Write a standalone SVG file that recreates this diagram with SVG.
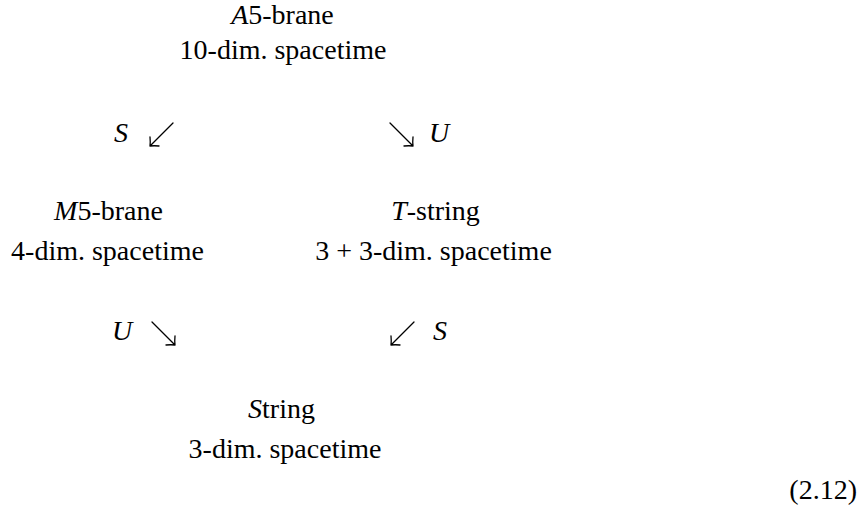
<svg xmlns="http://www.w3.org/2000/svg" width="865" height="512" viewBox="0 0 865 512">
<rect width="865" height="512" fill="#fff"/>

<g id="node-A5">
  <text x="282.5" y="24" font-size="28" font-family="Liberation Serif" text-anchor="middle"><tspan font-style="italic">A</tspan>5-brane</text>
  <text x="283" y="59" font-size="28" font-family="Liberation Serif" text-anchor="middle">10-dim. spacetime</text>
</g>

<g id="node-M5">
  <text x="108.5" y="220" font-size="28" font-family="Liberation Serif" text-anchor="middle"><tspan font-style="italic">M</tspan>5-brane</text>
  <text x="107.5" y="260" font-size="28" font-family="Liberation Serif" text-anchor="middle">4-dim. spacetime</text>
</g>

<g id="node-T">
  <text x="435.5" y="220" font-size="28" font-family="Liberation Serif" text-anchor="middle"><tspan font-style="italic">T</tspan>-string</text>
  <text x="433.5" y="260" font-size="28" font-family="Liberation Serif" text-anchor="middle">3 + 3-dim. spacetime</text>
</g>

<g id="node-String">
  <text x="281.5" y="418" font-size="28" font-family="Liberation Serif" text-anchor="middle"><tspan font-style="italic">S</tspan>tring</text>
  <text x="285" y="458" font-size="28" font-family="Liberation Serif" text-anchor="middle">3-dim. spacetime</text>
</g>

<g id="connectors" fill="none" stroke="#000" stroke-width="1.3" stroke-linecap="round" stroke-linejoin="round">
  <path d="M173,123 L150,146 M150,137 Q150.5,142 150,146 Q154,145.5 159,146"/>
  <path d="M390,123 L413,146 M413,137 Q412.5,142 413,146 Q409,145.5 404,146"/>
  <path d="M152,322 L175,345 M175,336 Q174.5,341 175,345 Q171,344.5 166,345"/>
  <path d="M414,322 L391,345 M391,336 Q391.5,341 391,345 Q395,344.5 400,345"/>
</g>

<g id="connector-labels">
  <text x="114" y="142" font-size="28" font-family="Liberation Serif" font-style="italic">S</text>
  <text x="429" y="142" font-size="28" font-family="Liberation Serif" font-style="italic">U</text>
  <text x="112" y="340" font-size="28" font-family="Liberation Serif" font-style="italic">U</text>
  <text x="433" y="340" font-size="28" font-family="Liberation Serif" font-style="italic">S</text>
</g>

<text id="eqnum" x="857" y="499" font-size="28" font-family="Liberation Serif" text-anchor="end">(2.12)</text>
</svg>
